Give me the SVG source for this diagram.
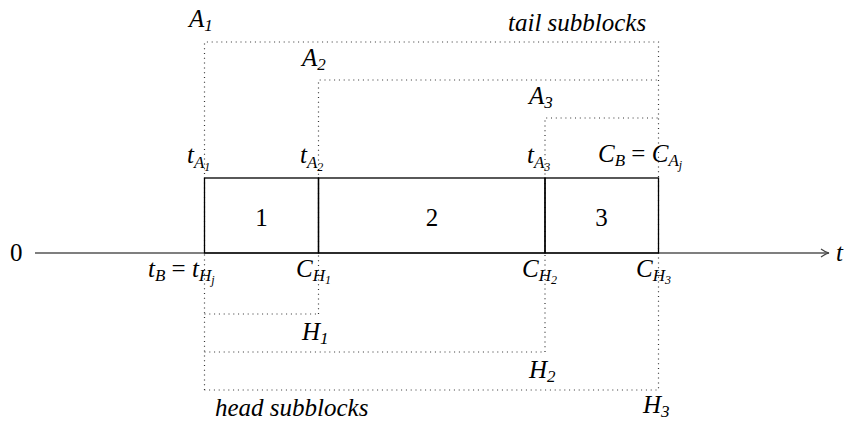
<svg xmlns="http://www.w3.org/2000/svg" width="862" height="422" viewBox="0 0 862 422">
<style>
.m{font-style:italic}
.s{font-size:17px}
.ss{font-size:12px}
.dot{fill:none;stroke:#333;stroke-width:1.2;stroke-dasharray:1 3.8}
.box{fill:none;stroke:#000;stroke-width:1.3}
</style>
<defs>
<marker id="arr" viewBox="0 0 10 10" refX="9" refY="5" markerWidth="10" markerHeight="10" markerUnits="userSpaceOnUse" orient="auto">
<path d="M1,1 Q5,4 9,5 Q5,6 1,9" fill="none" stroke="#444" stroke-width="1.2"/>
</marker>
</defs>
<g id="connectors">
<line x1="35" y1="253" x2="829" y2="253" stroke="#555" stroke-width="1.3" marker-end="url(#arr)"/>
<path class="dot" d="M204.5,390 V42 H658.5 V390 H204.5"/>
<path class="dot" d="M318.5,314 V80 H658.5"/>
<path class="dot" d="M545,352 V118 H658.5"/>
<path class="dot" d="M204.5,314 H318.5"/>
<path class="dot" d="M204.5,352 H545"/>
</g>
<g font-family="Liberation Serif, Times New Roman, serif" font-size="25">
<g id="block1"><rect class="box" x="204.5" y="178" width="114" height="75"/><text x="261.5" y="226" text-anchor="middle">1</text></g>
<g id="block2"><rect class="box" x="318.5" y="178" width="226.5" height="75"/><text x="432" y="226" text-anchor="middle">2</text></g>
<g id="block3"><rect class="box" x="545" y="178" width="113.5" height="75"/><text x="601.5" y="226" text-anchor="middle">3</text></g>
<g id="labels">
<text x="10" y="261">0</text>
<text class="m" x="836" y="261">t</text>
<text class="m" x="189" y="27">A<tspan class="s" dy="4">1</tspan></text>
<text class="m" x="302" y="66">A<tspan class="s" dy="4">2</tspan></text>
<text class="m" x="529" y="104">A<tspan class="s" dy="4">3</tspan></text>
<text class="m" x="508" y="31">tail subblocks</text>
<text class="m" x="187" y="163">t<tspan class="s" dy="5">A</tspan><tspan class="ss" dy="3">1</tspan></text>
<text class="m" x="300" y="163">t<tspan class="s" dy="5">A</tspan><tspan class="ss" dy="3">2</tspan></text>
<text class="m" x="527" y="163">t<tspan class="s" dy="5">A</tspan><tspan class="ss" dy="3">3</tspan></text>
<text class="m" x="598" y="162">C<tspan class="s" dy="4">B</tspan><tspan font-style="normal" dy="-4"> = </tspan>C<tspan class="s" dy="4">A</tspan><tspan class="ss" dy="3">j</tspan></text>
<text class="m" x="148" y="277">t<tspan class="s" dy="4">B</tspan><tspan font-style="normal" dy="-4"> = </tspan>t<tspan class="s" dy="4">H</tspan><tspan class="ss" dy="3">j</tspan></text>
<text class="m" x="296" y="277">C<tspan class="s" dy="4">H</tspan><tspan class="ss" dy="3">1</tspan></text>
<text class="m" x="522" y="277">C<tspan class="s" dy="4">H</tspan><tspan class="ss" dy="3">2</tspan></text>
<text class="m" x="636" y="277">C<tspan class="s" dy="4">H</tspan><tspan class="ss" dy="3">3</tspan></text>
<text class="m" x="302" y="340">H<tspan class="s" dy="4">1</tspan></text>
<text class="m" x="529" y="378">H<tspan class="s" dy="4">2</tspan></text>
<text class="m" x="643" y="413">H<tspan class="s" dy="4">3</tspan></text>
<text class="m" x="215" y="416">head subblocks</text>
</g>
</g>
</svg>
